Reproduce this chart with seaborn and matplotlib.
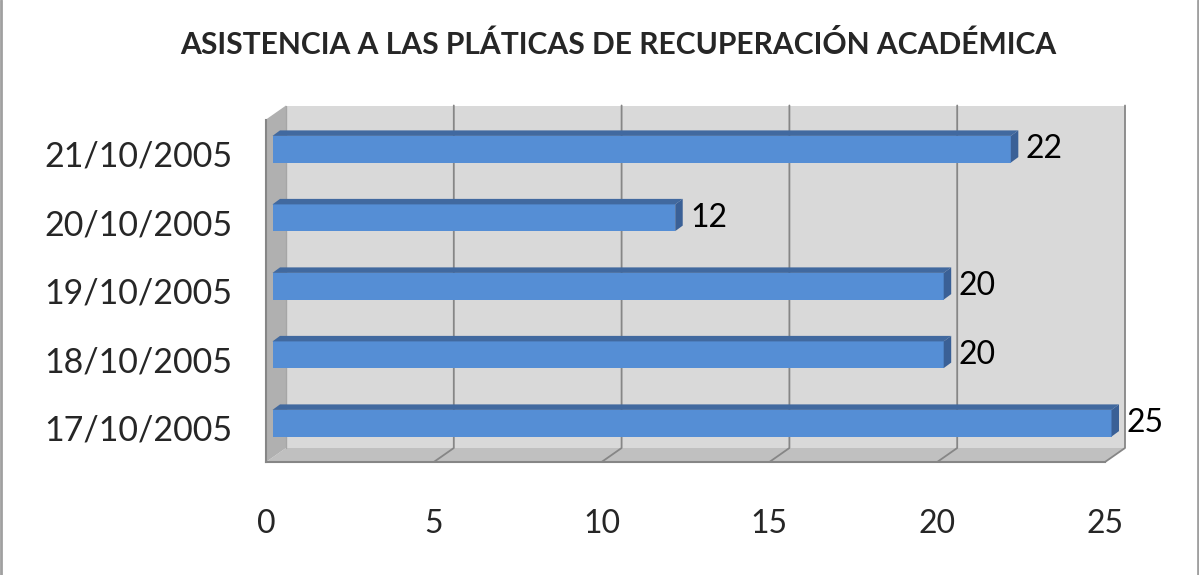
import numpy as np
import pandas as pd
import matplotlib
matplotlib.use("Agg")
import matplotlib.pyplot as plt
from matplotlib.patches import Polygon
from matplotlib.transforms import IdentityTransform, ScaledTranslation
from matplotlib.lines import Line2D
import seaborn as sns

# data (top to bottom as shown)
fechas = ["21/10/2005", "20/10/2005", "19/10/2005", "18/10/2005", "17/10/2005"]
asistentes = [22, 12, 20, 20, 25]
titulo = "ASISTENCIA A LAS PLÁTICAS DE RECUPERACIÓN ACADÉMICA"

df = pd.DataFrame({"fecha": fechas, "asistentes": asistentes})

sns.set_style("white")
plt.rcParams["font.family"] = ["Lato", "DejaVu Sans"]

W, H = 1199, 575
fig = plt.figure(figsize=(W / 100, H / 100), dpi=100)
# axes = front plane of the 3D box
x0, x1, ytop, ybot = 266, 1105, 119.5, 462
ax = fig.add_axes([x0 / W, 1 - ybot / H, (x1 - x0) / W, (ybot - ytop) / H])
ax.patch.set_visible(False)

blue = "#558ed5"
sns.barplot(data=df, y="fecha", x="asistentes", orient="h", color=blue,
            width=0.39, saturation=1, ax=ax, zorder=5, edgecolor="none")
ax.set_xlim(0, 25)
ax.set_ylim(4.5, -0.5)
ax.set_xlabel("")
ax.set_ylabel("")

# depth offsets in pixels (display coords, y up)
dep = (20, 14)          # front -> back wall
bar_off = (6.5, 4.5)    # front -> bar front face
bar_dep = (7.5, 5.5)    # bar thickness in depth

def disp(x, y, dx=0, dy=0):
    px, py = ax.transData.transform((x, y))
    return (px + dx, py + dy)

ident = IdentityTransform()
grid_c = "#868686"

def poly(pts, color, z):
    ax.add_patch(Polygon(pts, closed=True, facecolor=color, edgecolor="none",
                         transform=ident, zorder=z, clip_on=False))

def line(pts, color, lw, z):
    xs, ys = zip(*pts)
    ax.add_line(Line2D(xs, ys, color=color, lw=lw, transform=ident, zorder=z,
                       clip_on=False))

# back wall, floor, left wall
poly([disp(0, 4.5, *dep), disp(25, 4.5, *dep), disp(25, -0.5, *dep), disp(0, -0.5, *dep)],
     "#d9d9d9", 0.1)
poly([disp(0, 4.5), disp(25, 4.5), disp(25, 4.5, *dep), disp(0, 4.5, *dep)], "#c0c0c0", 0.2)
poly([disp(0, 4.5), disp(0, -0.5), disp(0, -0.5, *dep), disp(0, 4.5, *dep)], "#b0b0b0", 0.2)

# gridlines on back wall and floor
for xv in [5, 10, 15, 20, 25]:
    line([disp(xv, 4.5), disp(xv, 4.5, *dep), disp(xv, -0.5, *dep)], grid_c, 1.3, 0.3)
line([disp(0, 4.5, *dep), disp(0, -0.5, *dep)], "#a6a6a6", 1, 0.3)

# shift bars into depth and add top / right faces
shift = ScaledTranslation(bar_off[0] / 100, bar_off[1] / 100, fig.dpi_scale_trans)
for p in list(ax.patches):
    if not hasattr(p, "get_width"):
        continue
    bx, by, bw, bh = p.get_x(), p.get_y(), p.get_width(), p.get_height()
    p.set_transform(ax.transData + shift)
    p.set_clip_on(False)
    top_y = min(by, by + bh)
    bot_y = max(by, by + bh)
    a = disp(bx, top_y, *bar_off)
    b = disp(bx + bw, top_y, *bar_off)
    c = disp(bx + bw, bot_y, *bar_off)
    top = [a, b, (b[0] + bar_dep[0], b[1] + bar_dep[1]), (a[0] + bar_dep[0], a[1] + bar_dep[1])]
    right = [b, c, (c[0] + bar_dep[0], c[1] + bar_dep[1]), (b[0] + bar_dep[0], b[1] + bar_dep[1])]
    poly(top, "#41699f", 6)
    poly(right, "#3a6096", 6)

# value labels
lab_off = ScaledTranslation((bar_off[0] + 15) / 100, bar_off[1] / 100, fig.dpi_scale_trans)
for i, v in enumerate(asistentes):
    ax.text(v, i, str(v), transform=ax.transData + lab_off, ha="left", va="center",
            fontsize=23, color="black", zorder=7, clip_on=False)

# front axes styling
for s in ["top", "right"]:
    ax.spines[s].set_visible(False)
for s in ["left", "bottom"]:
    ax.spines[s].set_color(grid_c)
    ax.spines[s].set_linewidth(1.5)
    ax.spines[s].set_zorder(8)
ax.set_xticks([0, 5, 10, 15, 20, 25])
ax.set_yticks(np.arange(-0.5, 5, 1), minor=True)
ax.tick_params(axis="x", length=10, width=1.5, color=grid_c, pad=24, labelsize=23)
ax.tick_params(axis="y", which="major", length=0, pad=24, labelsize=24.5)
ax.tick_params(axis="y", which="minor", length=8, width=1.5, color=grid_c)

fig.text(618 / W, 1 - 44 / H, titulo, ha="center", va="center",
         fontsize=21.6, fontweight="bold")

# outer border (left / right)
fig.add_artist(Line2D([0.5 / W, 0.5 / W], [0, 1], color="#a0a0a0", lw=2))
fig.add_artist(Line2D([1197.5 / W, 1197.5 / W], [0, 1], color="#a0a0a0", lw=2))

fig.savefig("out.png", dpi=100)
